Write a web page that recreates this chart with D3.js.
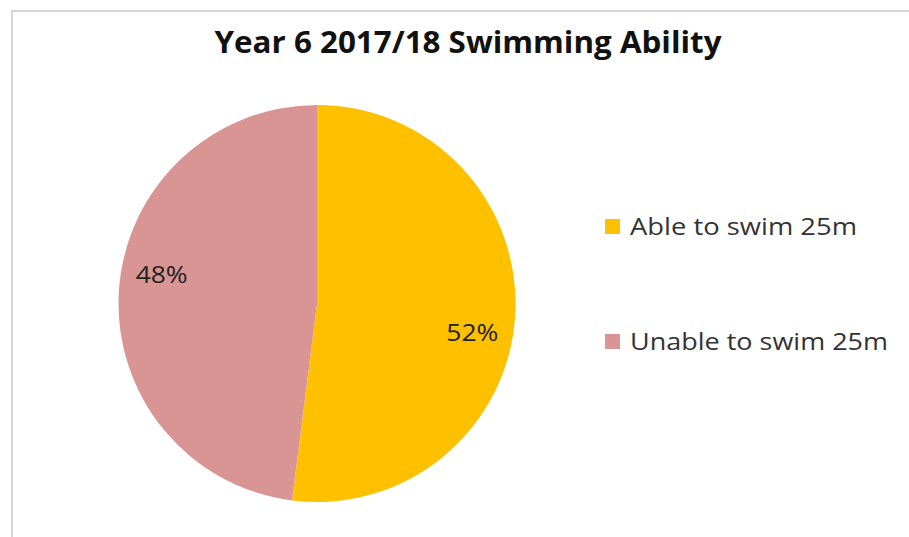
<!DOCTYPE html>
<html>
<head>
<meta charset="utf-8">
<script src="https://cdn.jsdelivr.net/npm/d3@7"></script>
<style>
  body { margin: 0; background: #fff; }
  text { font-family: "Open Sans", Lato, sans-serif; }
</style>
</head>
<body>
<svg width="909" height="537"></svg>
<script>
var categories = ["Able to swim 25m", "Unable to swim 25m"];
var values = [52, 48];
var colors = ["#FFC000", "#D99594"];
var title = "Year 6 2017/18 Swimming Ability";

var svg = d3.select("svg"),
    width = +svg.attr("width"),
    height = +svg.attr("height");

// chart frame
svg.append("rect")
    .attr("x", 12).attr("y", 11)
    .attr("width", width).attr("height", height)
    .style("fill", "#fff")
    .style("stroke", "#c8c8c8")
    .style("stroke-width", 1.5);

svg.append("text")
    .attr("x", 468).attr("y", 53)
    .attr("text-anchor", "middle")
    .attr("textLength", 507)
    .attr("lengthAdjust", "spacingAndGlyphs")
    .style("font-size", "30px")
    .style("font-weight", "bold")
    .style("fill", "#111")
    .text(title);

var data = categories.map(function(c, i) { return {name: c, value: values[i], color: colors[i]}; });

var radius = 198.5;
var pie = d3.pie().sort(null).value(function(d) { return d.value; });
var arc = d3.arc().innerRadius(0).outerRadius(radius);
var labelR = 158, labelShift = 0.12;

var g = svg.append("g")
    .attr("transform", "translate(317,303.5)");

var arcs = pie(data);

g.selectAll(".slice")
  .data(arcs)
  .enter().append("path")
    .attr("class", "slice")
    .attr("d", arc)
    .style("fill", function(d) { return d.data.color; });

g.selectAll(".label")
  .data(arcs)
  .enter().append("text")
    .attr("class", "label")
    .attr("transform", function(d) {
      var a = (d.startAngle + d.endAngle) / 2 + labelShift;
      return "translate(" + (labelR * Math.sin(a)) + "," + (-labelR * Math.cos(a)) + ")";
    })
    .attr("text-anchor", "middle")
    .attr("dy", "0.36em")
    .attr("textLength", 52)
    .attr("lengthAdjust", "spacingAndGlyphs")
    .style("font-size", "24px")
    .style("fill", "#222")
    .text(function(d) { return d.data.value + "%"; });

var legend = svg.append("g")
    .attr("transform", "translate(605,219)");

var item = legend.selectAll(".item")
  .data(data)
  .enter().append("g")
    .attr("class", "item")
    .attr("transform", function(d, i) { return "translate(0," + i * 115 + ")"; });

item.append("rect")
    .attr("width", 15).attr("height", 15)
    .style("fill", function(d) { return d.color; });

item.append("text")
    .attr("x", 25).attr("y", 16)
    .attr("textLength", function(d, i) { return i === 0 ? 227 : 258; })
    .attr("lengthAdjust", "spacingAndGlyphs")
    .style("font-size", "23px")
    .style("fill", "#333")
    .text(function(d) { return d.name; });
</script>
</body>
</html>
